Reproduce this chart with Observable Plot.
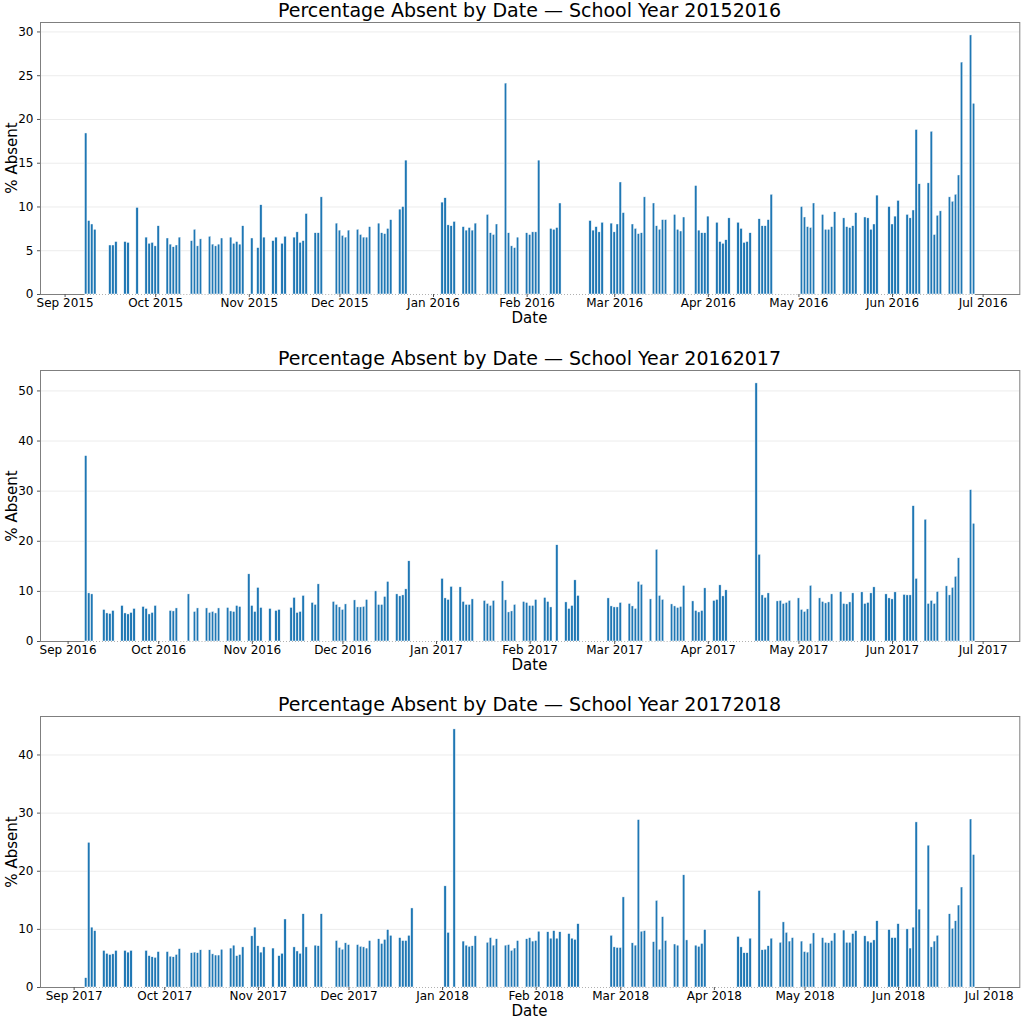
<!DOCTYPE html>
<html><head><meta charset="utf-8">
<script src="https://cdn.jsdelivr.net/npm/d3@7"></script>
<script src="https://cdn.jsdelivr.net/npm/@observablehq/plot@0.6"></script>
<style>
body{margin:0;background:#fff;overflow:hidden;font-family:"DejaVu Sans",sans-serif;color:#000;}
#root{position:relative;width:1024px;height:1024px;overflow:hidden;}
.title{position:absolute;left:40px;width:979px;text-align:center;font-size:19px;line-height:19px;white-space:nowrap;}
.xl{position:absolute;left:40px;width:979px;text-align:center;font-size:15px;line-height:15px;}
.yl{position:absolute;left:12px;font-size:15px;line-height:15px;white-space:nowrap;transform:translate(-50%,-50%) rotate(-90deg);}
.panel{position:absolute;left:0;}
</style>
</head><body><div id="root"></div>
<script>
// ---------------- DATA ----------------
const titles = ["Percentage Absent by Date \u2014 School Year 20152016",
                "Percentage Absent by Date \u2014 School Year 20162017",
                "Percentage Absent by Date \u2014 School Year 20172018"];

const dates1516 = [
"2015-09-08","2015-09-09","2015-09-10","2015-09-11",
"2015-09-16","2015-09-17","2015-09-18",
"2015-09-21","2015-09-22","2015-09-25",
"2015-09-28","2015-09-29","2015-09-30","2015-10-01","2015-10-02",
"2015-10-05","2015-10-06","2015-10-07","2015-10-08","2015-10-09",
"2015-10-13","2015-10-14","2015-10-15","2015-10-16",
"2015-10-19","2015-10-20","2015-10-21","2015-10-22","2015-10-23",
"2015-10-26","2015-10-27","2015-10-28","2015-10-29","2015-10-30",
"2015-11-02","2015-11-04","2015-11-05","2015-11-06",
"2015-11-09","2015-11-10","2015-11-12","2015-11-13",
"2015-11-16","2015-11-17","2015-11-18","2015-11-19","2015-11-20",
"2015-11-23","2015-11-24","2015-11-25",
"2015-11-30","2015-12-01","2015-12-02","2015-12-03","2015-12-04",
"2015-12-07","2015-12-08","2015-12-09","2015-12-10","2015-12-11",
"2015-12-14","2015-12-15","2015-12-16","2015-12-17","2015-12-18",
"2015-12-21","2015-12-22","2015-12-23",
"2016-01-04","2016-01-05","2016-01-06","2016-01-07","2016-01-08",
"2016-01-11","2016-01-12","2016-01-13","2016-01-14","2016-01-15",
"2016-01-19","2016-01-20","2016-01-21","2016-01-22",
"2016-01-25","2016-01-26","2016-01-27","2016-01-28","2016-01-29",
"2016-02-01","2016-02-02","2016-02-03","2016-02-04","2016-02-05",
"2016-02-09","2016-02-10","2016-02-11","2016-02-12",
"2016-02-22","2016-02-23","2016-02-24","2016-02-25","2016-02-26",
"2016-02-29","2016-03-01","2016-03-02","2016-03-03","2016-03-04",
"2016-03-07","2016-03-08","2016-03-09","2016-03-10","2016-03-11",
"2016-03-14","2016-03-15","2016-03-16","2016-03-17","2016-03-18",
"2016-03-21","2016-03-22","2016-03-23","2016-03-24",
"2016-03-28","2016-03-29","2016-03-30","2016-03-31","2016-04-01",
"2016-04-04","2016-04-05","2016-04-06","2016-04-07","2016-04-08",
"2016-04-11","2016-04-12","2016-04-13","2016-04-14","2016-04-15",
"2016-04-18","2016-04-19","2016-04-20","2016-04-21","2016-04-22",
"2016-05-02","2016-05-03","2016-05-04","2016-05-05","2016-05-06",
"2016-05-09","2016-05-10","2016-05-11","2016-05-12","2016-05-13",
"2016-05-16","2016-05-17","2016-05-18","2016-05-19","2016-05-20",
"2016-05-23","2016-05-24","2016-05-25","2016-05-26","2016-05-27",
"2016-05-31","2016-06-01","2016-06-02","2016-06-03",
"2016-06-06","2016-06-07","2016-06-08","2016-06-09","2016-06-10",
"2016-06-13","2016-06-14","2016-06-15","2016-06-16","2016-06-17",
"2016-06-20","2016-06-21","2016-06-22","2016-06-23","2016-06-24",
"2016-06-27","2016-06-28"];
const values1516 = [
18.4,8.4,8.0,7.4,
5.6,5.6,6.0,
6.0,5.9,9.9,
6.5,5.8,5.9,5.5,7.8,
6.4,5.7,5.4,5.6,6.5,
6.1,7.4,5.5,6.3,
6.6,5.7,5.5,5.7,6.4,
6.5,5.8,6.0,5.7,7.8,
6.4,5.3,10.2,6.5,
6.1,6.5,5.8,6.6,
6.5,7.1,5.9,6.1,9.2,
7.0,7.0,11.1,
8.1,7.3,6.7,6.5,7.3,
7.4,6.8,6.5,6.5,7.7,
8.1,7.0,6.9,7.5,8.5,
9.7,10.0,15.3,
10.5,11.0,7.9,7.8,8.3,
7.7,7.3,7.6,7.3,8.1,
9.1,7.0,6.8,8.0,
24.1,7.0,5.5,5.3,6.5,
7.0,6.8,7.1,7.1,15.3,
7.5,7.4,7.6,10.4,
8.4,7.3,7.7,7.1,8.2,
8.1,7.1,8.0,12.8,9.3,
8.0,7.5,6.9,7.0,11.1,
10.4,7.8,7.4,8.5,8.5,
9.1,7.4,7.2,8.8,
12.4,7.3,7.0,7.0,8.9,
8.2,6.0,5.8,6.2,8.7,
8.2,7.5,5.9,6.0,7.0,
8.6,7.8,7.8,8.5,11.4,
10.0,8.8,7.7,7.6,10.4,
9.1,7.4,7.4,7.7,9.4,
8.7,7.7,7.6,7.8,9.3,
8.8,8.7,7.4,8.0,11.3,
10.0,8.0,8.9,10.7,
9.1,8.7,9.6,18.8,12.6,
12.7,18.6,6.8,9.0,9.5,
11.1,10.6,11.4,13.6,26.5,
29.6,21.8];

const dates1617 = [
"2016-09-07","2016-09-08","2016-09-09",
"2016-09-13","2016-09-14","2016-09-15","2016-09-16",
"2016-09-19","2016-09-20","2016-09-21","2016-09-22","2016-09-23",
"2016-09-26","2016-09-27","2016-09-28","2016-09-29","2016-09-30",
"2016-10-05","2016-10-06","2016-10-07",
"2016-10-11","2016-10-13","2016-10-14",
"2016-10-17","2016-10-18","2016-10-19","2016-10-20","2016-10-21",
"2016-10-24","2016-10-25","2016-10-26","2016-10-27","2016-10-28",
"2016-10-31","2016-11-01","2016-11-02","2016-11-03","2016-11-04",
"2016-11-07","2016-11-09","2016-11-10",
"2016-11-14","2016-11-15","2016-11-16","2016-11-17","2016-11-18",
"2016-11-21","2016-11-22","2016-11-23",
"2016-11-28","2016-11-29","2016-11-30","2016-12-01","2016-12-02",
"2016-12-05","2016-12-06","2016-12-07","2016-12-08","2016-12-09",
"2016-12-12","2016-12-13","2016-12-14","2016-12-15","2016-12-16",
"2016-12-19","2016-12-20","2016-12-21","2016-12-22","2016-12-23",
"2017-01-03","2017-01-04","2017-01-05","2017-01-06",
"2017-01-09","2017-01-10","2017-01-11","2017-01-12","2017-01-13",
"2017-01-17","2017-01-18","2017-01-19","2017-01-20",
"2017-01-23","2017-01-24","2017-01-25","2017-01-26","2017-01-27",
"2017-01-30","2017-01-31","2017-02-01","2017-02-02","2017-02-03",
"2017-02-06","2017-02-07","2017-02-08","2017-02-10",
"2017-02-13","2017-02-14","2017-02-15","2017-02-16","2017-02-17",
"2017-02-27","2017-02-28","2017-03-01","2017-03-02","2017-03-03",
"2017-03-06","2017-03-07","2017-03-08","2017-03-09","2017-03-10",
"2017-03-13","2017-03-15","2017-03-16","2017-03-17",
"2017-03-20","2017-03-21","2017-03-22","2017-03-23","2017-03-24",
"2017-03-27","2017-03-28","2017-03-29","2017-03-30","2017-03-31",
"2017-04-03","2017-04-04","2017-04-05","2017-04-06","2017-04-07",
"2017-04-17","2017-04-18","2017-04-19","2017-04-20","2017-04-21",
"2017-04-24","2017-04-25","2017-04-26","2017-04-27","2017-04-28",
"2017-05-01","2017-05-02","2017-05-03","2017-05-04","2017-05-05",
"2017-05-08","2017-05-09","2017-05-10","2017-05-11","2017-05-12",
"2017-05-15","2017-05-16","2017-05-17","2017-05-18","2017-05-19",
"2017-05-22","2017-05-23","2017-05-24","2017-05-25","2017-05-26",
"2017-05-30","2017-05-31","2017-06-01","2017-06-02",
"2017-06-05","2017-06-06","2017-06-07","2017-06-08","2017-06-09",
"2017-06-12","2017-06-13","2017-06-14","2017-06-15","2017-06-16",
"2017-06-19","2017-06-20","2017-06-21","2017-06-22","2017-06-23",
"2017-06-27","2017-06-28"];
const values1617 = [
37.0,9.6,9.4,
6.3,5.6,5.5,6.1,
7.1,5.6,5.4,5.7,6.5,
6.9,6.5,5.4,5.7,7.1,
6.1,6.0,6.6,
9.4,5.9,6.6,
6.6,5.7,5.9,5.6,6.6,
6.7,6.0,5.9,7.1,6.9,
13.4,7.1,5.9,10.7,6.7,
6.5,6.1,6.3,
6.7,8.7,5.7,5.9,9.1,
7.7,7.3,11.4,
7.9,7.3,6.8,6.3,7.4,
8.2,6.8,6.8,6.9,8.3,
10.0,7.3,7.3,8.9,11.9,
9.4,9.0,9.2,10.4,16.0,
12.5,8.6,8.3,10.9,
10.8,7.9,7.3,7.3,8.4,
8.1,7.5,7.1,8.1,
12.0,8.2,5.8,6.0,7.3,
7.9,7.7,7.1,7.1,8.3,
8.7,7.9,6.8,19.2,
7.8,6.5,7.1,12.2,9.1,
8.6,7.0,6.8,6.8,7.7,
7.5,7.0,6.5,11.9,11.3,
8.4,18.3,9.1,8.3,
7.4,7.0,6.7,6.9,11.1,
8.0,6.1,5.8,6.1,10.6,
8.1,8.3,11.2,9.0,10.2,
51.5,17.3,9.2,8.7,9.6,
8.0,8.1,7.5,7.7,8.1,
8.6,6.3,5.9,6.4,11.1,
8.6,7.9,7.6,7.8,9.4,
9.9,7.5,7.4,7.8,9.6,
9.8,7.5,7.7,9.6,10.8,
9.4,8.6,8.4,9.8,
9.3,9.2,9.2,27.0,12.5,
24.3,7.5,8.1,7.5,9.9,
11.0,9.2,10.7,12.9,16.6,
30.2,23.5];

const dates1718 = [
"2017-09-05","2017-09-06","2017-09-07","2017-09-08",
"2017-09-11","2017-09-12","2017-09-13","2017-09-14","2017-09-15",
"2017-09-18","2017-09-19","2017-09-20",
"2017-09-25","2017-09-26","2017-09-27","2017-09-28","2017-09-29",
"2017-10-02","2017-10-03","2017-10-04","2017-10-05","2017-10-06",
"2017-10-10","2017-10-11","2017-10-12","2017-10-13",
"2017-10-16","2017-10-17","2017-10-18","2017-10-19","2017-10-20",
"2017-10-23","2017-10-24","2017-10-25","2017-10-26","2017-10-27",
"2017-10-30","2017-10-31","2017-11-01","2017-11-02","2017-11-03",
"2017-11-06","2017-11-08","2017-11-09","2017-11-10",
"2017-11-13","2017-11-14","2017-11-15","2017-11-16","2017-11-17",
"2017-11-20","2017-11-21","2017-11-22",
"2017-11-27","2017-11-28","2017-11-29","2017-11-30","2017-12-01",
"2017-12-04","2017-12-05","2017-12-06","2017-12-07","2017-12-08",
"2017-12-11","2017-12-12","2017-12-13","2017-12-14","2017-12-15",
"2017-12-18","2017-12-19","2017-12-20","2017-12-21","2017-12-22",
"2018-01-02","2018-01-03","2018-01-05",
"2018-01-08","2018-01-09","2018-01-10","2018-01-11","2018-01-12",
"2018-01-16","2018-01-17","2018-01-18","2018-01-19",
"2018-01-22","2018-01-23","2018-01-24","2018-01-25","2018-01-26",
"2018-01-29","2018-01-30","2018-01-31","2018-02-01","2018-02-02",
"2018-02-05","2018-02-06","2018-02-07","2018-02-08","2018-02-09",
"2018-02-12","2018-02-13","2018-02-14","2018-02-15",
"2018-02-26","2018-02-27","2018-02-28","2018-03-01","2018-03-02",
"2018-03-05","2018-03-06","2018-03-07","2018-03-08","2018-03-09",
"2018-03-12","2018-03-13","2018-03-14","2018-03-15","2018-03-16",
"2018-03-19","2018-03-20","2018-03-22","2018-03-23",
"2018-03-26","2018-03-27","2018-03-28","2018-03-29",
"2018-04-09","2018-04-10","2018-04-11","2018-04-12","2018-04-13",
"2018-04-16","2018-04-17","2018-04-18","2018-04-19","2018-04-20",
"2018-04-23","2018-04-24","2018-04-25","2018-04-26","2018-04-27",
"2018-04-30","2018-05-01","2018-05-02","2018-05-03","2018-05-04",
"2018-05-07","2018-05-08","2018-05-09","2018-05-10","2018-05-11",
"2018-05-14","2018-05-15","2018-05-16","2018-05-17","2018-05-18",
"2018-05-21","2018-05-22","2018-05-23","2018-05-24","2018-05-25",
"2018-05-29","2018-05-30","2018-05-31","2018-06-01",
"2018-06-04","2018-06-05","2018-06-06","2018-06-07","2018-06-08",
"2018-06-11","2018-06-12","2018-06-13","2018-06-14",
"2018-06-18","2018-06-19","2018-06-20","2018-06-21","2018-06-22",
"2018-06-25","2018-06-26"];
const values1718 = [
1.6,24.9,10.3,9.7,
6.3,5.8,5.6,5.7,6.3,
6.3,6.0,6.3,
6.3,5.4,5.2,5.1,6.1,
6.1,5.3,5.2,5.6,6.6,
5.9,6.0,5.9,6.4,
6.4,5.7,5.5,5.5,6.5,
6.7,7.2,5.4,5.6,6.9,
8.8,10.3,7.1,6.0,6.9,
6.7,5.4,5.8,11.7,
6.9,6.2,5.8,12.6,6.9,
7.2,7.1,12.6,
8.0,6.8,6.5,7.6,7.3,
7.3,7.0,6.9,6.7,8.0,
8.3,7.5,8.2,9.9,8.9,
8.5,8.0,8.0,8.9,13.6,
17.4,9.4,44.4,
7.9,7.2,7.0,7.1,8.8,
7.7,8.5,7.2,8.3,
7.2,7.3,6.3,6.7,8.0,
8.3,8.5,7.9,8.0,9.6,
9.5,8.4,9.7,8.4,9.5,
9.2,8.4,8.2,10.9,
8.9,6.9,6.8,6.8,15.5,
7.6,7.2,28.8,9.6,9.7,
7.8,14.9,6.5,12.1,8.0,
7.4,7.2,19.3,8.1,
7.2,7.0,7.5,9.9,
8.7,6.9,5.9,5.9,8.4,
16.6,6.4,6.5,7.1,8.4,
7.7,11.2,9.4,7.9,8.5,
7.9,6.1,6.0,7.5,9.3,
8.5,7.7,7.6,8.0,9.3,
9.8,7.7,7.7,9.2,9.7,
8.8,7.9,7.7,8.1,11.4,
9.9,8.5,8.5,10.9,
10.0,6.7,10.3,28.4,13.4,
24.4,6.9,7.9,8.9,
12.6,10.1,11.4,14.1,17.2,
28.9,22.8];

const yTicks1516 = [0,5,10,15,20,25,30];
const yTicks1617 = [0,10,20,30,40,50];
const yTicks1718 = [0,10,20,30,40];

// ---------------- LAYOUT ----------------
const panels = [
  {dates: dates1516, values: values1516, yTicks: yTicks1516, title: titles[0], top: 18, h: 312},
  {dates: dates1617, values: values1617, yTicks: yTicks1617, title: titles[1], top: 366, h: 311},
  {dates: dates1718, values: values1718, yTicks: yTicks1718, title: titles[2], top: 712, h: 311}
];
const DAY = 864e5;
const root = document.getElementById("root");
const mT = 4, mB = 36, mL = 40, mR = 4.7;

panels.forEach(p => {
  const rows = p.dates.map((d, i) => ({date: new Date(d + "T00:00:00Z"), value: p.values[i]}));
  const lo = +d3.min(rows, r => r.date) - 0.4 * DAY;
  const hi = +d3.max(rows, r => r.date) + 0.4 * DAY;
  const pad = (hi - lo) * 0.05;
  const x0 = new Date(lo - pad), x1 = new Date(hi + pad);
  const yMax = d3.max(rows, r => r.value) * 1.05;
  const months = d3.utcMonth.range(d3.utcMonth.ceil(x0), x1);
  const plotH = p.h - mT - mB;
  const pxPerDay = (1024 - mL - mR) / ((+x1 - +x0) / DAY);

  const svg = Plot.plot({
    width: 1024, height: p.h,
    marginLeft: mL, marginRight: mR, marginTop: mT, marginBottom: mB,
    style: {fontFamily: "DejaVu Sans", fontSize: "12px", color: "#000", background: "white", overflow: "visible"},
    x: {type: "utc", domain: [x0, x1]},
    y: {domain: [0, yMax]},
    marks: [
      Plot.gridY(p.yTicks, {stroke: "#ececec", strokeOpacity: 1}),
      Plot.rect(rows, {
        x1: r => new Date(+r.date - 0.4 * DAY),
        x2: r => new Date(+r.date + 0.4 * DAY),
        y1: 0, y2: "value",
        fill: "#1f77b4", stroke: "white", strokeWidth: 0.45
      }),
      Plot.frame({stroke: "#7f7f7f", strokeWidth: 1}),
      Plot.ruleY([0], {x1: new Date(lo), x2: new Date(hi), stroke: "white", strokeWidth: 1.2,
        strokeDasharray: `${(0.8 * pxPerDay).toFixed(2)},${(0.2 * pxPerDay).toFixed(2)}`}),
      Plot.axisX({ticks: months, tickFormat: d3.utcFormat("%b %Y"), tickSize: 3, tickPadding: 1,
        label: null, fontSize: 12, stroke: "#555"}),
      Plot.axisY({ticks: p.yTicks, tickSize: 3, tickPadding: 4, label: null, fontSize: 12, stroke: "#555"})
    ]
  });
  const wrap = document.createElement("div");
  wrap.className = "panel";
  wrap.style.top = p.top + "px";
  wrap.appendChild(svg);
  root.appendChild(wrap);

  const plotTop = p.top + mT, plotBottom = p.top + mT + plotH;
  const t = document.createElement("div");
  t.className = "title"; t.textContent = p.title;
  t.style.top = (plotTop - 5.3 - 16.1) + "px";
  root.appendChild(t);

  const xl = document.createElement("div");
  xl.className = "xl"; xl.textContent = "Date";
  xl.style.top = (plotBottom + 24 - 7.2) + "px";
  root.appendChild(xl);

  const yl = document.createElement("div");
  yl.className = "yl"; yl.textContent = "% Absent";
  yl.style.top = ((plotTop + plotBottom) / 2) + "px";
  root.appendChild(yl);
});
</script>
</body></html>
